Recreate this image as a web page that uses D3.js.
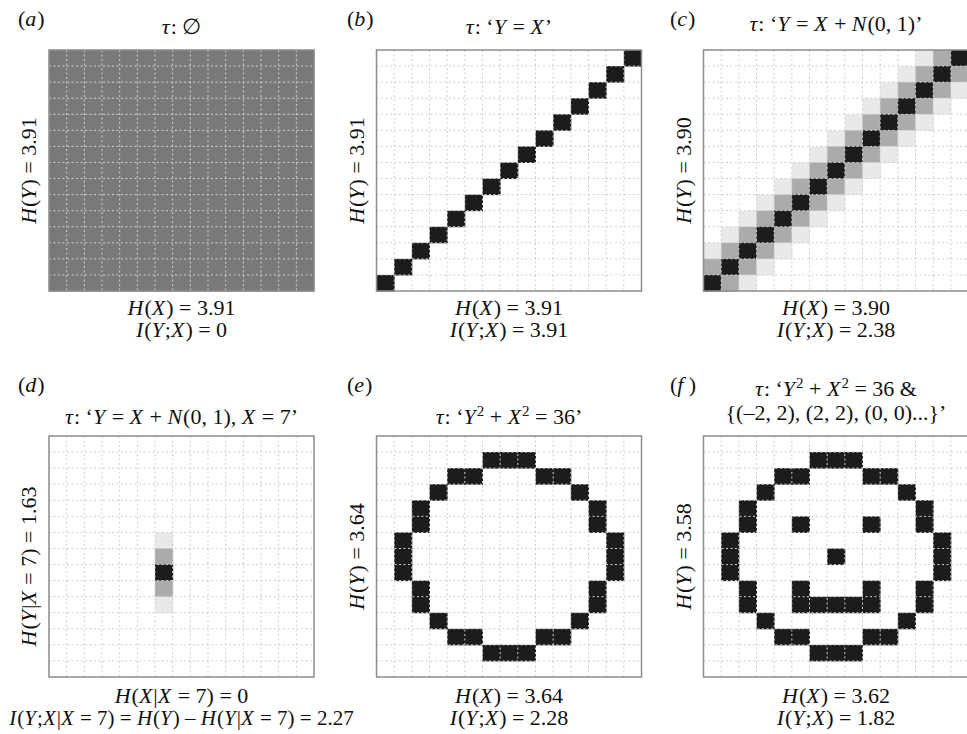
<!DOCTYPE html>
<html>
<head>
<meta charset="utf-8">
<script src="https://cdn.jsdelivr.net/npm/d3@7"></script>
<style>
  html, body { margin: 0; padding: 0; background: #fff; }
  svg { display: block; font-family: "Liberation Serif", "DejaVu Serif", serif; }
</style>
</head>
<body>
<svg id="chart" width="967" height="734"></svg>
<script>
// grid cells, 15 x 15, rows listed top to bottom
// '.' empty, 'u' uniform, 'l' light, 'g' grey, 'b' black
const gridA = [
  "uuuuuuuuuuuuuuu", "uuuuuuuuuuuuuuu", "uuuuuuuuuuuuuuu", "uuuuuuuuuuuuuuu", "uuuuuuuuuuuuuuu",
  "uuuuuuuuuuuuuuu", "uuuuuuuuuuuuuuu", "uuuuuuuuuuuuuuu", "uuuuuuuuuuuuuuu", "uuuuuuuuuuuuuuu",
  "uuuuuuuuuuuuuuu", "uuuuuuuuuuuuuuu", "uuuuuuuuuuuuuuu", "uuuuuuuuuuuuuuu", "uuuuuuuuuuuuuuu"
];
const gridB = [
  "..............b",
  ".............b.",
  "............b..",
  "...........b...",
  "..........b....",
  ".........b.....",
  "........b......",
  ".......b.......",
  "......b........",
  ".....b.........",
  "....b..........",
  "...b...........",
  "..b............",
  ".b.............",
  "b.............."
];
const gridC = [
  "............lgb",
  "...........lgbg",
  "..........lgbgl",
  ".........lgbgl.",
  "........lgbgl..",
  ".......lgbgl...",
  "......lgbgl....",
  ".....lgbgl.....",
  "....lgbgl......",
  "...lgbgl.......",
  "..lgbgl........",
  ".lgbgl.........",
  "lgbgl..........",
  "gbgl...........",
  "bgl............"
];
const gridD = [
  "...............",
  "...............",
  "...............",
  "...............",
  "...............",
  "...............",
  "......l........",
  "......g........",
  "......b........",
  "......g........",
  "......l........",
  "...............",
  "...............",
  "...............",
  "..............."
];
const gridE = [
  "...............",
  "......bbb......",
  "....bb...bb....",
  "...b.......b...",
  "..b.........b..",
  "..b.........b..",
  ".b...........b.",
  ".b...........b.",
  ".b...........b.",
  "..b.........b..",
  "..b.........b..",
  "...b.......b...",
  "....bb...bb....",
  "......bbb......",
  "..............."
];
const gridF = [
  "...............",
  "......bbb......",
  "....bb...bb....",
  "...b.......b...",
  "..b.........b..",
  "..b..b...b..b..",
  ".b...........b.",
  ".b.....b.....b.",
  ".b...........b.",
  "..b..b...b..b..",
  "..b..bbbbb..b..",
  "...b.......b...",
  "....bb...bb....",
  "......bbb......",
  "..............."
];

// text: *..* italic, ^..^ superscript
const panelTags = ["(*a*)", "(*b*)", "(*c*)", "(*d*)", "(*e*)", "(*f*\u2009)"];
const titles = [
  ["*τ*: ∅"],
  ["*τ*: ‘*Y* = *X*’"],
  ["*τ*: ‘*Y* = *X* + *N*(0, 1)’"],
  ["*τ*: ‘*Y* = *X* + *N*(0, 1), *X* = 7’"],
  ["*τ*: ‘*Y*^2^ + *X*^2^ = 36’"],
  ["*τ*: ‘*Y*^2^ + *X*^2^ = 36 &", "{(–2, 2), (2, 2), (0, 0)...}’"]
];
const yLabels = [
  "*H*(*Y*) = 3.91",
  "*H*(*Y*) = 3.91",
  "*H*(*Y*) = 3.90",
  "*H*(*Y*|*X* = 7) = 1.63",
  "*H*(*Y*) = 3.64",
  "*H*(*Y*) = 3.58"
];
const xLabels = [
  ["*H*(*X*) = 3.91", "*I*(*Y*;*X*) = 0"],
  ["*H*(*X*) = 3.91", "*I*(*Y*;*X*) = 3.91"],
  ["*H*(*X*) = 3.90", "*I*(*Y*;*X*) = 2.38"],
  ["*H*(*X*|*X* = 7) = 0", "*I*(*Y*;*X*|*X* = 7) = *H*(*Y*) – *H*(*Y*|*X* = 7) = 2.27"],
  ["*H*(*X*) = 3.64", "*I*(*Y*;*X*) = 2.28"],
  ["*H*(*X*) = 3.62", "*I*(*Y*;*X*) = 1.82"]
];
const grids = [gridA, gridB, gridC, gridD, gridE, gridF];

const shades = { u: "#79797c", l: "#e9e9e9", g: "#ababab", b: "#1c1c1c" };

const svg = d3.select("#chart");
const frameW = 265, frameH = 241;
const colX = [49, 376.5, 703.5];
const rowY = [50, 436];
const idx = d3.range(15);
const fs = "22px";

function richText(sel, str) {
  const parts = str.split(/(\*[^*]+\*|\^[^^]+\^)/).filter(s => s.length);
  let shift = 0, afterItalic = false;
  parts.forEach(p => {
    let t;
    if (p[0] === "^") {
      sel.append("tspan").attr("dy", -8).attr("dx", 1).attr("font-size", "15px").text(p.slice(1, -1));
      shift = 8;
      afterItalic = false;
      return;
    }
    if (p[0] === "*") t = sel.append("tspan").attr("font-style", "italic").text(p.slice(1, -1));
    else t = sel.append("tspan").text(p);
    if (afterItalic) t.attr("dx", 1); // italic correction
    if (shift) { t.attr("dy", shift); shift = 0; }
    afterItalic = p[0] === "*";
  });
}

grids.forEach((grid, i) => {
  const x0 = colX[i % 3], y0 = rowY[Math.floor(i / 3)];
  const cx = x0 + frameW / 2;
  const g = svg.append("g");

  const x = d3.scaleBand().domain(idx).range([x0, x0 + frameW]);
  const y = d3.scaleBand().domain(idx).range([y0, y0 + frameH]);

  const cells = [];
  grid.forEach((row, r) => row.split("").forEach((ch, c) => {
    if (ch !== ".") cells.push({ r, c, v: ch });
  }));

  g.append("rect").attr("x", x0).attr("y", y0).attr("width", frameW).attr("height", frameH)
    .attr("fill", "#fff");

  g.selectAll(".cell").data(cells).enter().append("rect")
    .attr("x", d => x(d.c)).attr("y", d => y(d.r))
    .attr("width", x.bandwidth() + 0.5).attr("height", y.bandwidth() + 0.5)
    .attr("fill", d => shades[d.v]);

  // dashed grid
  g.selectAll(".vline").data(idx.slice(1)).enter().append("line")
    .attr("x1", d => x(d)).attr("x2", d => x(d))
    .attr("y1", y0).attr("y2", y0 + frameH)
    .attr("stroke", "#cfcfcf").attr("stroke-width", 1).attr("stroke-dasharray", "2,2.5");
  g.selectAll(".hline").data(idx.slice(1)).enter().append("line")
    .attr("y1", d => y(d)).attr("y2", d => y(d))
    .attr("x1", x0).attr("x2", x0 + frameW)
    .attr("stroke", "#cfcfcf").attr("stroke-width", 1).attr("stroke-dasharray", "2,2.5");

  g.append("rect").attr("x", x0).attr("y", y0).attr("width", frameW).attr("height", frameH)
    .attr("fill", "none").attr("stroke", "#8c8c8c").attr("stroke-width", 1.5);

  const top = i < 3;
  // panel tag
  const tagX = [18, 347, 670][i % 3];
  richText(g.append("text").attr("x", tagX).attr("y", top ? 26 : 392)
    .attr("font-size", fs).attr("fill", "#111"), panelTags[i]);

  // title
  const tLines = titles[i];
  tLines.forEach((line, k) => {
    const base = top ? (i === 2 ? 31 : 34) : (tLines.length > 1 ? 396 + k * 24 : 424);
    richText(g.append("text").attr("x", cx).attr("y", base)
      .attr("text-anchor", "middle").attr("font-size", fs).attr("fill", "#111"), line);
  });

  // y label
  const cy = y0 + frameH / 2 + (i === 3 ? 10 : 0);
  richText(g.append("text").attr("transform", `translate(${x0 - 13},${cy}) rotate(-90)`)
    .attr("text-anchor", "middle").attr("font-size", fs).attr("fill", "#111"), yLabels[i]);

  // x labels
  xLabels[i].forEach((line, k) => {
    const base = (top ? 315 : 703) + k * 22;
    const long = line.length > 40;
    richText(g.append("text").attr("x", cx).attr("y", base)
      .attr("text-anchor", "middle").attr("font-size", long ? "21px" : fs).attr("fill", "#111"), line);
  });
});
</script>
</body>
</html>
